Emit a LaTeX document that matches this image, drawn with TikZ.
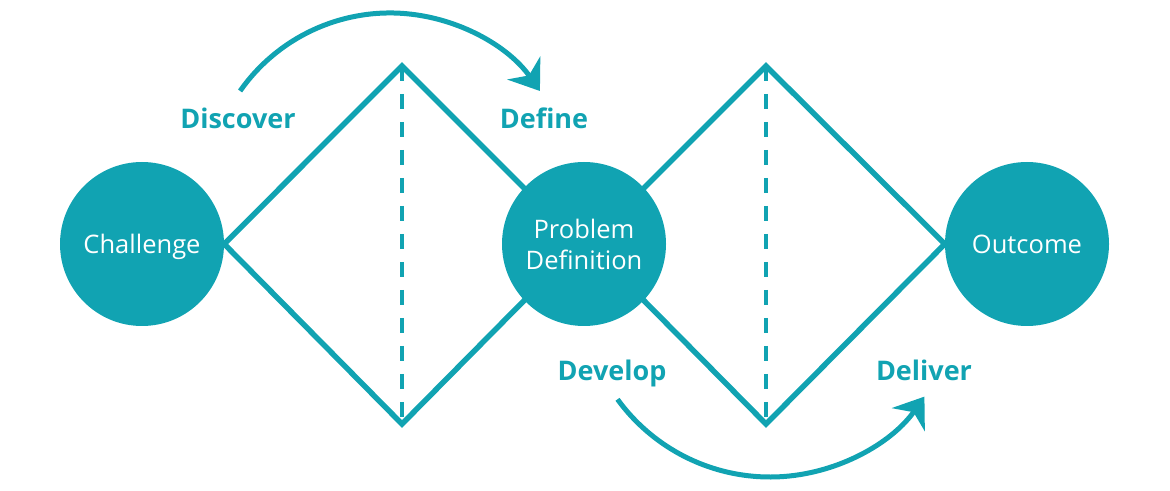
\documentclass[tikz,border=0pt]{standalone}
\usepackage{fontspec}
\setmainfont{Open Sans}
\usetikzlibrary{arrows.meta, backgrounds, positioning}
\definecolor{dcteal}{RGB}{17,163,178}

\begin{document}
\begin{tikzpicture}[x=1pt, y=1pt,
    stage/.style={circle, fill=dcteal, text=white, minimum size=164pt, inner sep=0pt, align=center, font=\fontsize{25.5}{31}\selectfont},
    phase/.style={text=dcteal, anchor=base, font=\bfseries\fontsize{27}{30}\selectfont},
    edge/.style={dcteal, line width=5.5pt},
    split/.style={dcteal, line width=3.5pt, dash pattern=on 15pt off 13pt},
    flow/.style={dcteal, line width=5pt, -{Stealth[length=28pt, width=40pt, inset=9pt]}}]
\useasboundingbox (0,0) rectangle (1170,490);

% stages
\node[stage, text depth=0pt] (challenge) at (142,246) {Challenge};
\node[stage] (problem) at (584,246) {Problem\\Definition};
\node[stage, text depth=0pt] (outcome) at (1027,246) {Outcome};

% diamond corners
\coordinate (d1top) at (402,424);
\coordinate (d1bot) at (402,66);
\coordinate (d1end) at (580,246);
\coordinate (d2top) at (766,424);
\coordinate (d2bot) at (766,66);
\coordinate (d2start) at (588,246);

\begin{scope}[on background layer]
\draw[edge] (challenge.east) -- (d1top) -- (d1end) -- (d1bot) -- cycle;
\draw[edge] (d2start) -- (d2top) -- (outcome.west) -- (d2bot) -- cycle;
\draw[split] (d1top) -- (d1bot);
\draw[split] (d2top) -- (d2bot);
\end{scope}

% phases
\node[phase] (discover) at (238,361) {Discover};
\node[phase] (define) at (544,361) {Define};
\node[phase] (develop) at (612,109) {Develop};
\node[phase] (deliver) at (924,109) {Deliver};

% arrows
\coordinate (topstart) at (240.1,399);
\coordinate (botstart) at (617.5,90.7);
\draw[flow] (topstart) arc[start angle=145, end angle=35, radius=183];
\draw[flow] (botstart) arc[start angle=216, end angle=325, radius=188.5];

\end{tikzpicture}
\end{document}
